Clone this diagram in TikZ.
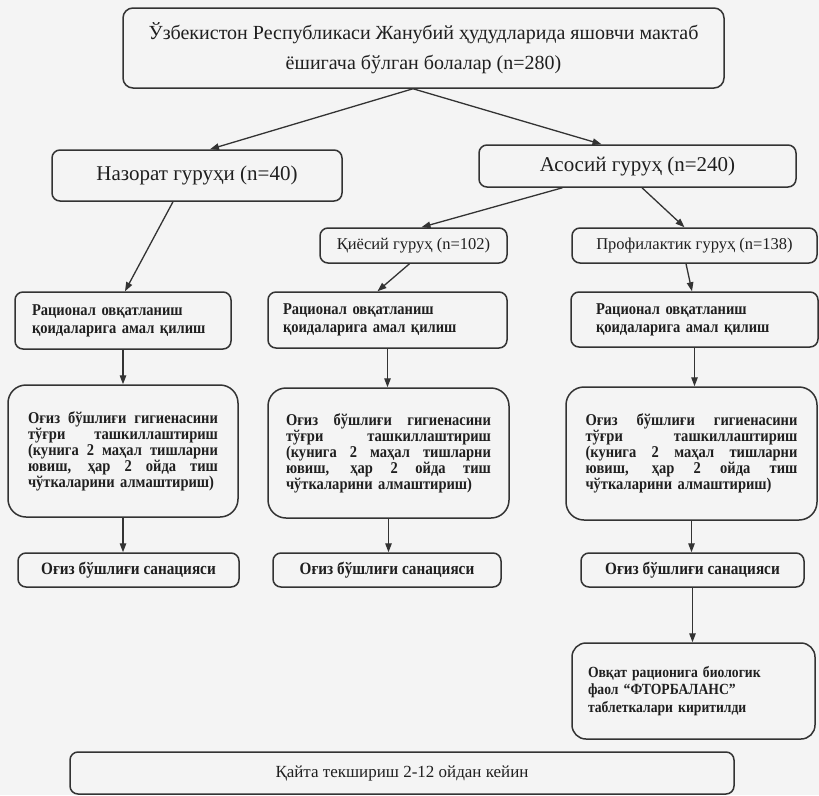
\documentclass[tikz,border=0pt]{standalone}
\usepackage{fontspec}
\setmainfont{Liberation Serif}
\newfontfamily\fccond{Liberation Serif}[FakeStretch=0.88]
\usepackage{xcolor}
\usepackage{tikz}
\usetikzlibrary{arrows.meta,positioning}
\definecolor{fcink}{HTML}{333333}
\definecolor{fcpaper}{HTML}{F4F4F4}
\newcommand{\fcline}[1]{{\spaceskip=0pt\xspaceskip=0pt\makebox[\hsize][s]{#1}}}
\tikzset{
  fcbox/.style={
    rectangle, rounded corners=8pt, draw=fcink, line width=1.5pt,
    inner sep=0pt, align=center, text=black!88
  },
  fctitle/.style={fcbox, rounded corners=10pt, font=\fontsize{20}{30}\selectfont},
  fcgroup/.style={fcbox, font=\fontsize{21}{24}\selectfont},
  fcsub/.style={fcbox, font=\fontsize{16.5}{20}\selectfont},
  fcstep/.style={fcbox, align=left, font=\fccond\fontsize{16.5}{18}\selectfont\bfseries},
  fctall/.style={fcbox, rounded corners=18pt, align=left, font=\fccond\fontsize{16.5}{16}\selectfont\bfseries},
  fcsan/.style={fcbox, font=\fccond\fontsize{17.3}{18}\selectfont\bfseries},
  fcedge/.style={-{Triangle[length=9pt,width=6.5pt]}, draw=fcink, line width=1.3pt}
}
\begin{document}
\begin{tikzpicture}[x=1pt,y=-1pt]
\fill[fcpaper] (0,0) rectangle (819,795);
\useasboundingbox (0,0) rectangle (819,795);

\node[fctitle, minimum width=601pt, minimum height=80pt] (top) at (423.5,48)
  {Ўзбекистон Республикаси Жанубий ҳудудларида яшовчи мактаб\\ёшигача бўлган болалар (n=280)};

\node[fcgroup, minimum width=290pt, minimum height=51pt] (naz) at (197,175.5) {Назорат гуруҳи (n=40)};
\node[fcgroup, minimum width=317pt, minimum height=42pt] (aso) at (637.5,166) {Асосий гуруҳ (n=240)};

\node[fcsub, minimum width=187pt, minimum height=35pt] (kiy) at (413.5,245.5) {Қиёсий гуруҳ (n=102)};
\node[fcsub, minimum width=245pt, minimum height=35pt] (pro) at (694.5,245.5) {Профилактик гуруҳ (n=138)};

\node[fcstep, text width=182pt, inner xsep=17pt, minimum height=57pt] (rat1) at (123,320.5)
  {Рационал овқатланиш\\қоидаларига амал қилиш};
\node[fcstep, text width=209pt, inner xsep=15pt, minimum height=56pt] (rat2) at (387.5,320)
  {Рационал овқатланиш\\қоидаларига амал қилиш};
\node[fcstep, text width=197pt, inner xsep=25pt, minimum height=55pt] (rat3) at (694.5,319.5)
  {Рационал овқатланиш\\қоидаларига амал қилиш};

\node[fctall, text width=190pt, inner xsep=20pt, minimum height=132pt] (ogi1) at (123,451)
  {\fcline{Оғиз бўшлиғи гигиенасини}\\\fcline{тўғри ташкиллаштириш}\\\fcline{(кунига 2 маҳал тишларни}\\\fcline{ювиш, ҳар 2 ойда тиш}\\чўткаларини алмаштириш)};
\node[fctall, text width=205pt, inner xsep=18pt, minimum height=130pt] (ogi2) at (388.5,453)
  {\fcline{Оғиз бўшлиғи гигиенасини}\\\fcline{тўғри ташкиллаштириш}\\\fcline{(кунига 2 маҳал тишларни}\\\fcline{ювиш, ҳар 2 ойда тиш}\\чўткаларини алмаштириш)};
\node[fctall, text width=212pt, inner xsep=19.5pt, minimum height=133pt] (ogi3) at (691.5,453.5)
  {\fcline{Оғиз бўшлиғи гигиенасини}\\\fcline{тўғри ташкиллаштириш}\\\fcline{(кунига 2 маҳал тишларни}\\\fcline{ювиш, ҳар 2 ойда тиш}\\чўткаларини алмаштириш)};

\node[fcsan, minimum width=221pt, minimum height=34pt] (san1) at (128.5,570) {Оғиз бўшлиғи санацияси};
\node[fcsan, minimum width=228pt, minimum height=34pt] (san2) at (387,570) {Оғиз бўшлиғи санацияси};
\node[fcsan, minimum width=223pt, minimum height=34pt] (san3) at (692.5,570) {Оғиз бўшлиғи санацияси};

\node[fcstep, rounded corners=14pt, text width=211pt, inner xsep=16pt, minimum height=96pt,
  font=\fccond\fontsize{15.5}{17.5}\selectfont\bfseries] (flu) at (693.5,691)
  {Овқат рационига биологик\\фаол “ФТОРБАЛАНС”\\таблеткалари киритилди};

\node[fcsub, font=\fontsize{17}{20}\selectfont, minimum width=664pt, minimum height=42pt] (fin) at (402,773)
  {Қайта текшириш 2-12 ойдан кейин};

\draw[fcedge] ([xshift=-10.5pt]top.south) -- ([xshift=13pt]naz.north);
\draw[fcedge] ([xshift=-10.5pt]top.south) -- ([xshift=-36pt]aso.north);
\draw[fcedge] ([xshift=-24pt]naz.south) -- ([xshift=2pt]rat1.north);
\draw[fcedge] ([xshift=-75pt]aso.south) -- ([xshift=8pt]kiy.north);
\draw[fcedge] ([xshift=4.5pt]aso.south) -- ([xshift=-10pt]pro.north);
\draw[fcedge] ([xshift=-4pt]kiy.south) -- ([xshift=-10pt]rat2.north);
\draw[fcedge] ([xshift=-8.5pt]pro.south) -- ([xshift=-2.5pt]rat3.north);
\draw[fcedge] (rat1.south) -- (rat1.south |- ogi1.north);
\draw[fcedge] (rat2.south) -- (rat2.south |- ogi2.north);
\draw[fcedge] (rat3.south) -- (rat3.south |- ogi3.north);
\draw[fcedge] (ogi1.south) -- (ogi1.south |- san1.north);
\draw[fcedge] (ogi2.south) -- (ogi2.south |- san2.north);
\draw[fcedge] (ogi3.south) -- (ogi3.south |- san3.north);
\draw[fcedge] (san3.south) -- (san3.south |- flu.north);
\end{tikzpicture}
\end{document}
